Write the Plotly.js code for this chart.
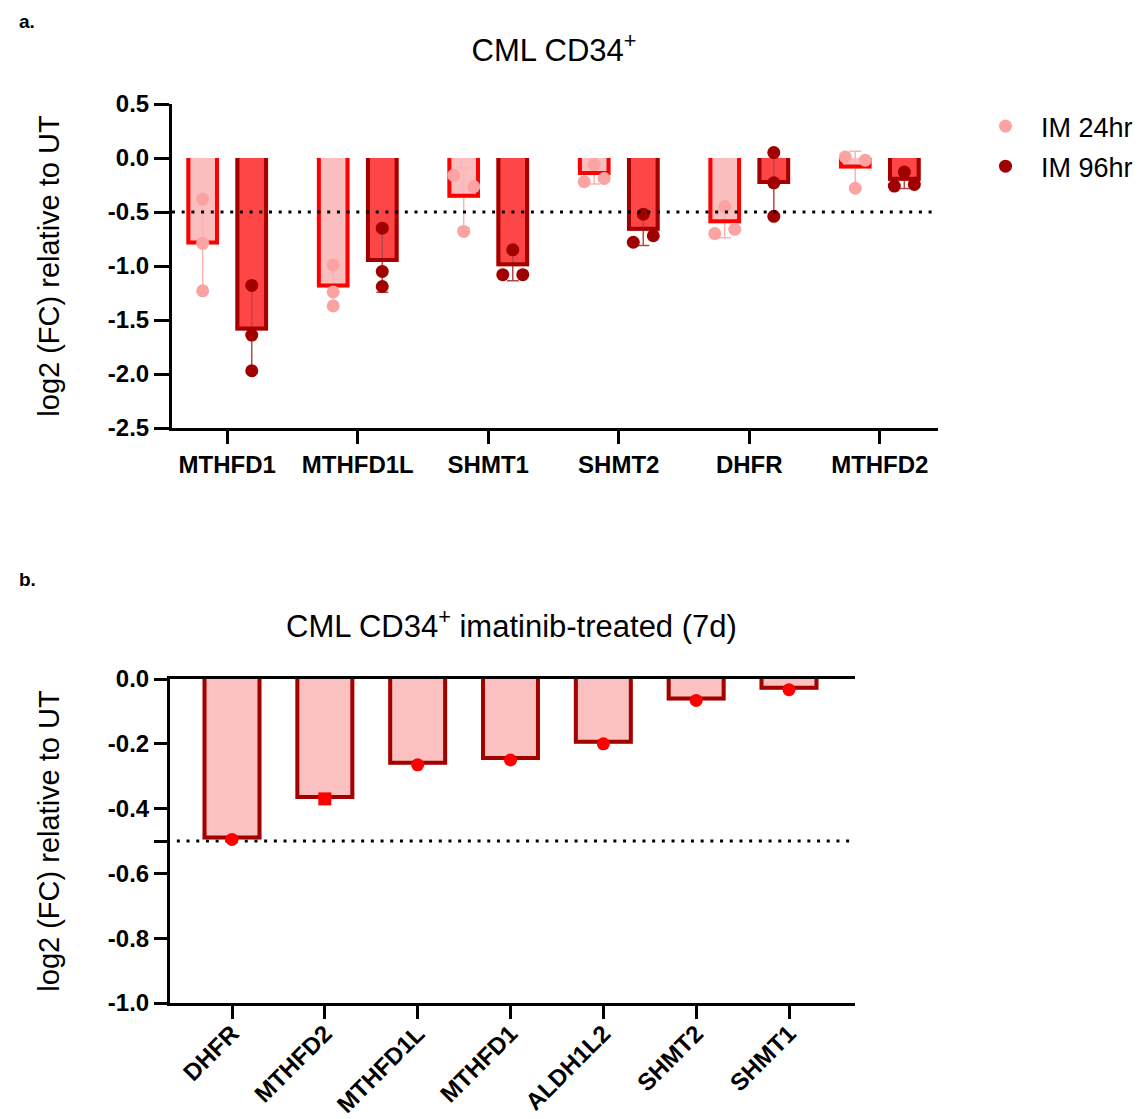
<!DOCTYPE html>
<html>
<head>
<meta charset="utf-8">
<script src="https://cdn.plot.ly/plotly-3.0.1.min.js"></script>
<style>html,body{margin:0;padding:0;background:#fff;}</style>
</head>
<body>
<div id="chart" style="width:1147px;height:1119px;"></div>
<script>
// ---------------- DATA ----------------
// Panel a: CML CD34+ (three replicates per gene, log2 FC relative to UT)
const genesA = ['MTHFD1', 'MTHFD1L', 'SHMT1', 'SHMT2', 'DHFR', 'MTHFD2'];
const seriesNamesA = ['IM 24hr', 'IM 96hr'];
const im24Replicates = [
  [-0.38, -0.79, -1.23],
  [-0.99, -1.24, -1.37],
  [-0.16, -0.265, -0.68],
  [-0.06, -0.22, -0.19],
  [-0.45, -0.70, -0.66],
  [0.01, -0.02, -0.28]
];
const im96Replicates = [
  [-1.18, -1.64, -1.97],
  [-0.65, -1.05, -1.19],
  [-0.85, -1.08, -1.08],
  [-0.52, -0.78, -0.72],
  [0.05, -0.23, -0.54],
  [-0.13, -0.26, -0.245]
];
const yTicksA = [0.5, 0, -0.5, -1.0, -1.5, -2.0, -2.5];

// Panel b: CML CD34+ imatinib-treated (7d)
const genesB = ['DHFR', 'MTHFD2', 'MTHFD1L', 'MTHFD1', 'ALDH1L2', 'SHMT2', 'SHMT1'];
const valuesB = [-0.495, -0.37, -0.265, -0.25, -0.20, -0.066, -0.033];
const yTicksB = [0, -0.2, -0.4, -0.5, -0.6, -0.8, -1.0];
const unlabelledTicksB = [-0.5];

const thresholdValue = -0.5;
const titleA = 'CML CD34<sup>+</sup>';
const titleB = 'CML CD34<sup>+</sup> imatinib-treated (7d)';
const yTitle = 'log2 (FC) relative to UT';

// ---------------- STYLE ----------------
const W = 1147, H = 1119;
const FONT = 'Arial, "Liberation Sans", Helvetica, sans-serif';
const pxX = v => v / W;
const pxY = v => 1 - v / H;

const domA = { x: [pxX(172), pxX(938)], y: [pxY(428), pxY(104)] };
const domB = { x: [pxX(170), pxX(855)], y: [pxY(1003), pxY(679)] };
const xRangeA = [-0.423, 5.446];
const xRangeB = [-0.668, 6.711];
const yRangeA = [-2.5, 0.5];
const yRangeB = [-1.0, 0];

const groupOffset = 0.188;   // half distance between paired bars (category units)
const barWidthA = 0.25;
const barWidthB = 0.635;
const outlineWidth = 4;
const markerSize = 13;
const symbolsB = genesB.map(g => g === 'MTHFD2' ? 'square' : 'circle');

const C24 = { fill: '#FBBEBE', line: '#FF0000', point: '#FBA3A3', err: '#FBB3B3' };
const C96 = { fill: '#FF4646', line: '#A30000', point: '#A00000', err: '#B54848' };
const CB = { fill: '#FBC1C1', line: '#A30000', point: '#FF0000' };

// ---------------- HELPERS ----------------
const mean = a => a.reduce((s, v) => s + v, 0) / a.length;
const sd = a => { const m = mean(a); return Math.sqrt(a.reduce((s, v) => s + (v - m) * (v - m), 0) / (a.length - 1)); };

const scaleA = {
  x: (domA.x[1] - domA.x[0]) * W / (xRangeA[1] - xRangeA[0]),
  y: (domA.y[1] - domA.y[0]) * H / (yRangeA[1] - yRangeA[0])
};
const scaleB = {
  x: (domB.x[1] - domB.x[0]) * W / (xRangeB[1] - xRangeB[0]),
  y: (domB.y[1] - domB.y[0]) * H / (yRangeB[1] - yRangeB[0])
};

// spread overlapping replicate points horizontally (column scatter)
function spreadOffsets(reps) {
  const n = reps.length;
  const thr = 12 / scaleA.y;
  const parent = reps.map((_, i) => i);
  const find = i => parent[i] === i ? i : (parent[i] = find(parent[i]));
  for (let i = 0; i < n; i++) for (let j = i + 1; j < n; j++)
    if (Math.abs(reps[i] - reps[j]) < thr) parent[find(i)] = find(j);
  const groups = {};
  reps.forEach((_, i) => { const r = find(i); (groups[r] = groups[r] || []).push(i); });
  const off = new Array(n).fill(0);
  const step = 20 / scaleA.x;
  Object.values(groups).forEach(g => {
    g.forEach((idx, k) => { off[idx] = (k - (g.length - 1) / 2) * step; });
  });
  return off;
}

// bar outline drawn inside the bar (sides + bottom, open at zero)
function outlineTrace(xs, vals, w, scale, color, xa, ya) {
  const ix = (outlineWidth / 2) / scale.x, iy = (outlineWidth / 2) / scale.y;
  const X = [], Y = [];
  xs.forEach((x, i) => {
    const v = vals[i];
    const x0 = x - w / 2 + ix, x1 = x + w / 2 - ix;
    const yb = v < 0 ? v + iy : v - iy;
    X.push(x0, x0, x1, x1, null);
    Y.push(0, yb, yb, 0, null);
  });
  return {
    type: 'scatter', mode: 'lines', x: X, y: Y, connectgaps: false,
    line: { color: color, width: outlineWidth, shape: 'linear' },
    xaxis: xa, yaxis: ya, showlegend: false, hoverinfo: 'skip'
  };
}

function seriesTraces(reps, shift, col, name, group) {
  const xs = genesA.map((_, i) => i + shift);
  const means = reps.map(mean);
  const bar = {
    type: 'bar', x: xs, y: means, width: barWidthA,
    marker: { color: col.fill, line: { width: 0 } },
    error_y: { type: 'data', array: reps.map(sd), visible: true, color: col.err, thickness: 1.5, width: 6 },
    xaxis: 'x', yaxis: 'y', showlegend: false, hoverinfo: 'skip'
  };
  const outline = outlineTrace(xs, means, barWidthA, scaleA, col.line, 'x', 'y');
  const px = [], py = [];
  reps.forEach((r, i) => {
    const off = spreadOffsets(r);
    r.forEach((v, k) => { px.push(xs[i] + off[k]); py.push(v); });
  });
  const pts = {
    type: 'scatter', mode: 'markers', x: px, y: py, name: name, legendgroup: group,
    marker: { color: col.point, size: markerSize, symbol: 'circle' },
    xaxis: 'x', yaxis: 'y', cliponaxis: false
  };
  return [bar, outline, pts];
}

const [bar24, out24, pts24] = seriesTraces(im24Replicates, -groupOffset, C24, seriesNamesA[0], 'g24');
const [bar96, out96, pts96] = seriesTraces(im96Replicates, groupOffset, C96, seriesNamesA[1], 'g96');

const xsB = genesB.map((_, i) => i);
const barB = {
  type: 'bar', x: xsB, y: valuesB, width: barWidthB,
  marker: { color: CB.fill, line: { width: 0 } },
  xaxis: 'x2', yaxis: 'y2', showlegend: false, hoverinfo: 'skip'
};
const outB = outlineTrace(xsB, valuesB, barWidthB, scaleB, CB.line, 'x2', 'y2');
const ptsB = {
  type: 'scatter', mode: 'markers', x: xsB, y: valuesB,
  marker: { color: CB.point, size: markerSize, symbol: symbolsB },
  xaxis: 'x2', yaxis: 'y2', showlegend: false, cliponaxis: false
};

const axisCommon = {
  showline: true, linecolor: '#000', linewidth: 3,
  ticks: 'outside', tickcolor: '#000', tickwidth: 3,
  showgrid: false, zeroline: false, fixedrange: true,
  tickfont: { family: FONT, size: 24, color: '#000', weight: 'bold' }
};

const layout = {
  width: W, height: H,
  margin: { l: 0, r: 0, t: 0, b: 0 },
  paper_bgcolor: '#fff', plot_bgcolor: 'rgba(0,0,0,0)',
  barmode: 'overlay',
  showlegend: true,
  title: {
    text: titleA, font: { family: FONT, size: 31, color: '#000' },
    xref: 'container', yref: 'container', x: 554 / W, y: pxY(50), xanchor: 'center', yanchor: 'middle'
  },
  legend: {
    x: pxX(970), y: pxY(102), xanchor: 'left', yanchor: 'top',
    font: { family: FONT, size: 27, color: '#000' },
    itemwidth: 61, tracegroupgap: 2, bgcolor: 'rgba(0,0,0,0)', itemclick: false, itemdoubleclick: false
  },
  xaxis: Object.assign({}, axisCommon, {
    domain: domA.x, anchor: 'y', range: xRangeA,
    tickmode: 'array', tickvals: genesA.map((_, i) => i), ticktext: genesA, ticklen: 13
  }),
  yaxis: Object.assign({}, axisCommon, {
    domain: domA.y, anchor: 'x', range: yRangeA,
    tickmode: 'array', tickvals: yTicksA, ticktext: yTicksA.map(v => v.toFixed(1)), ticklen: 15,
    title: { text: yTitle, font: { family: FONT, size: 29, color: '#000' }, standoff: 40 }
  }),
  xaxis2: Object.assign({}, axisCommon, {
    domain: domB.x, anchor: 'y2', range: xRangeB, mirror: true,
    tickmode: 'array', tickvals: xsB, ticktext: genesB, ticklen: 13, tickangle: -45,
    ticklabelstandoff: -9
  }),
  yaxis2: Object.assign({}, axisCommon, {
    domain: domB.y, anchor: 'x2', range: yRangeB,
    tickmode: 'array', tickvals: yTicksB, ticktext: yTicksB.map(v => unlabelledTicksB.includes(v) ? '' : v.toFixed(1)), ticklen: 13,
    title: { text: yTitle, font: { family: FONT, size: 29, color: '#000' }, standoff: 40 }
  }),
  shapes: [
    { type: 'line', xref: 'x domain', yref: 'y', x0: 0, x1: 1, y0: thresholdValue, y1: thresholdValue,
      line: { color: '#000', width: 3, dash: '3px,6.7px' }, layer: 'above' },
    { type: 'line', xref: 'x2 domain', yref: 'y2', x0: 0.01, x1: 1, y0: thresholdValue, y1: thresholdValue,
      line: { color: '#000', width: 3, dash: '3px,6.7px' }, layer: 'below' }
  ],
  annotations: [
    { text: '<b>a.</b>', xref: 'paper', yref: 'paper', x: pxX(17), y: pxY(21), xanchor: 'left', yanchor: 'middle',
      showarrow: false, font: { family: FONT, size: 19, color: '#000' } },
    { text: '<b>b.</b>', xref: 'paper', yref: 'paper', x: pxX(17), y: pxY(579), xanchor: 'left', yanchor: 'middle',
      showarrow: false, font: { family: FONT, size: 19, color: '#000' } },
    { text: titleB, xref: 'paper', yref: 'paper', x: 511 / W, y: pxY(624), xanchor: 'center', yanchor: 'middle',
      showarrow: false, font: { family: FONT, size: 31, color: '#000' } }
  ]
};

Plotly.newPlot('chart', [bar24, bar96, barB, out24, out96, outB, pts24, pts96, ptsB], layout, { staticPlot: true, displayModeBar: false });
</script>
</body>
</html>
